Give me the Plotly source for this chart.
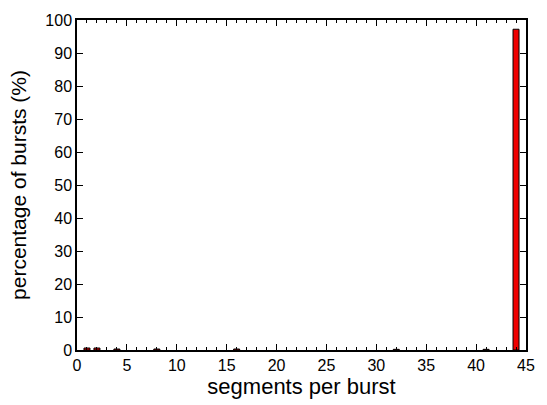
import plotly.graph_objects as go

segments = [1, 2, 4, 8, 16, 32, 41, 44]
percent = [0.6, 0.6, 0.3, 0.3, 0.3, 0.2, 0.2, 97.2]

x_ticks = [0, 5, 10, 15, 20, 25, 30, 35, 40, 45]
y_ticks = [0, 10, 20, 30, 40, 50, 60, 70, 80, 90, 100]

fig = go.Figure(go.Bar(
    x=segments, y=percent, width=0.6,
    marker=dict(color="#f00000", line=dict(color="black", width=1)),
))

font = "Liberation Sans, Arial, Helvetica, sans-serif"
fig.update_layout(
    width=547, height=405,
    margin=dict(l=77, r=20, t=14, b=55),
    plot_bgcolor="white", paper_bgcolor="white",
    font=dict(family=font, size=16, color="black"),
    showlegend=False,
)
fig.update_xaxes(
    range=[0, 45], tickvals=x_ticks, ticks="inside", ticklen=6, tickwidth=1,
    tickcolor="black", showline=True, linecolor="black", linewidth=1.5,
    mirror="ticks", showgrid=False, zeroline=False,
    minor=dict(dtick=1, ticks="inside", ticklen=3, tickcolor="black", showgrid=False),
    title=dict(text="segments per burst", font=dict(size=22), standoff=2),
    tickfont=dict(size=16),
)
fig.update_yaxes(
    range=[0, 100], tickvals=y_ticks, ticks="inside", ticklen=6, tickwidth=1,
    tickcolor="black", showline=True, linecolor="black", linewidth=1.5,
    mirror="ticks", showgrid=False, zeroline=False,
    title=dict(text="percentage of bursts (%)", font=dict(size=21), standoff=13),
    tickfont=dict(size=16),
)
fig.write_html("out.html")
